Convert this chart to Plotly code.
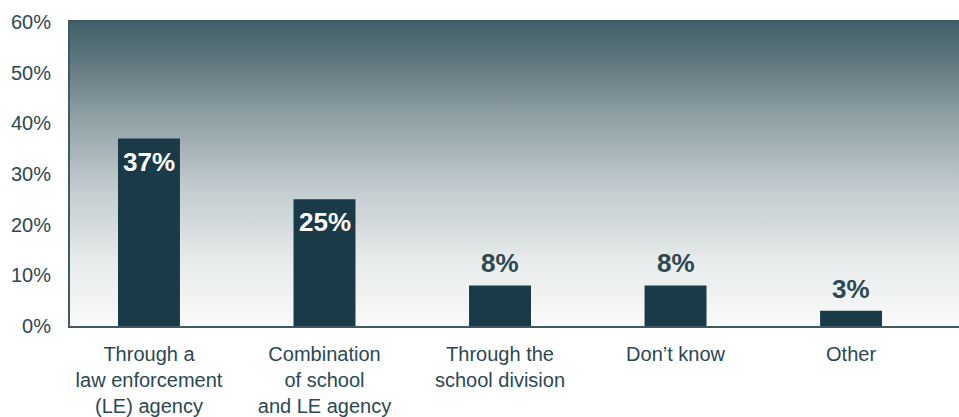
import plotly.graph_objects as go

# Survey responses: how the incident was handled
categories = [
    "Through a<br>law enforcement<br>(LE) agency",
    "Combination<br>of school<br>and LE agency",
    "Through the<br>school division",
    "Don\u2019t know",
    "Other",
]
shares = [37, 25, 8, 8, 3]
y_ticks = [0, 10, 20, 30, 40, 50, 60]
y_tick_labels = [f"{v}%" for v in y_ticks]

BAR = "#1b3a47"
TEXT = "#2b4853"
AXIS = "#3e5a64"
FONT = "Liberation Sans, Arial, sans-serif"

fig = go.Figure()

# Vertical gradient panel behind the bars (on a hidden 0..1 subplot)
fig.add_trace(go.Scatter(
    x=[0, 1, 1, 0, 0], y=[0, 0, 1, 1, 0],
    mode="lines", fill="toself", line=dict(width=0),
    fillgradient=dict(
        type="vertical",
        colorscale=[
            [0.0, "#f9fafa"],
            [0.2, "#e9ecec"],
            [0.45, "#c3cccf"],
            [0.7, "#8d9ea3"],
            [0.85, "#657b82"],
            [1.0, "#425f69"],
        ],
    ),
    hoverinfo="skip", showlegend=False,
    xaxis="x", yaxis="y",
))

fig.add_trace(go.Bar(
    x=categories, y=shares,
    marker=dict(color=BAR, line=dict(width=0)),
    width=0.353,
    hoverinfo="skip", showlegend=False,
    xaxis="x2", yaxis="y2",
))

# Value labels: white inside tall bars, dark above short ones
annotations = []
for cat, val in zip(categories, shares):
    inside = val >= 20
    annotations.append(dict(
        x=cat, y=val, xref="x2", yref="y2",
        text=f"<b>{val}%</b>", showarrow=False,
        yanchor="top" if inside else "bottom",
        yshift=-6 if inside else 5,
        font=dict(family=FONT, size=26, color="white" if inside else TEXT),
    ))

fig.update_layout(
    width=959, height=417,
    margin=dict(l=70, r=0, t=22, b=91),
    paper_bgcolor="white",
    plot_bgcolor="rgba(0,0,0,0)",
    font=dict(family=FONT, size=20, color=TEXT),
    annotations=annotations,
    xaxis=dict(range=[0, 1], visible=False, fixedrange=True),
    yaxis=dict(range=[0, 1], visible=False, fixedrange=True),
    xaxis2=dict(
        overlaying="x", type="category", range=[-0.45, 4.615],
        showline=True, linecolor=AXIS, linewidth=2, mirror=True,
        showgrid=False, ticks="", tickfont=dict(size=20, color=TEXT),
        ticklabelstandoff=9,
        zeroline=False,
    ),
    yaxis2=dict(
        overlaying="y", range=[0, 60],
        tickvals=y_ticks, ticktext=y_tick_labels,
        showline=True, linecolor=AXIS, linewidth=2,
        showgrid=False, zeroline=False, ticks="",
        ticklabelstandoff=13,
        tickfont=dict(size=20, color=TEXT),
    ),
)

fig.write_html("out.html")
